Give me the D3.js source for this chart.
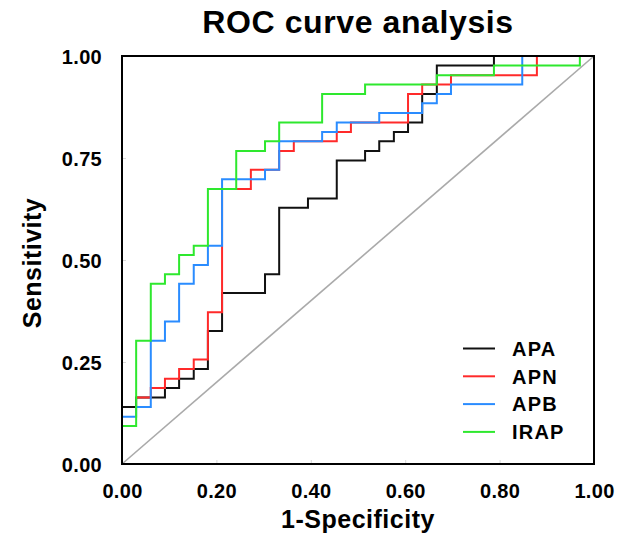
<!DOCTYPE html>
<html><head><meta charset="utf-8">
<script src="https://cdn.jsdelivr.net/npm/d3@7"></script>
<style>
html,body{margin:0;padding:0;background:#fff;}
text{font-family:"Liberation Sans",Arial,Helvetica,sans-serif;font-weight:bold;fill:#000;}
</style></head>
<body><svg id="c" width="624" height="536"></svg>
<script>
// ---- data (1-specificity, sensitivity) step corners ----
const seriesNames = ["APA","APN","APB","IRAP"];
const seriesColors = ["#111111","#ff2a2a","#2a8cff","#2ee82e"];
const apaFPR = [0,0,0.030,0.091,0.121,0.152,0.182,0.212,0.303,0.333,0.394,0.455,0.515,0.545,0.576,0.606,0.636,0.667,0.788,1];
const apaTPR = [0,0.140,0.163,0.186,0.209,0.233,0.326,0.419,0.465,0.628,0.651,0.744,0.767,0.791,0.814,0.837,0.907,0.977,1,1];
const apnFPR = [0.030,0.061,0.091,0.121,0.152,0.182,0.212,0.273,0.333,0.364,0.455,0.485,0.606,0.636,0.697,0.879,1];
const apnTPR = [0.163,0.186,0.209,0.233,0.256,0.372,0.674,0.721,0.767,0.791,0.814,0.837,0.907,0.930,0.953,1,1];
const apbFPR = [0,0,0.030,0.061,0.091,0.121,0.152,0.182,0.212,0.303,0.333,0.424,0.455,0.545,0.636,0.667,0.697,0.848,1];
const apbTPR = [0,0.116,0.140,0.302,0.349,0.442,0.488,0.535,0.698,0.721,0.791,0.814,0.837,0.860,0.884,0.907,0.930,1,1];
const irapFPR = [0,0,0.030,0.061,0.091,0.121,0.152,0.182,0.242,0.303,0.333,0.424,0.515,0.667,0.788,0.970,1];
const irapTPR = [0,0.093,0.302,0.442,0.465,0.512,0.535,0.674,0.767,0.791,0.837,0.907,0.930,0.953,0.977,1,1];
const xTicks = [0,0.2,0.4,0.6,0.8,1.0];
const yTicks = [0,0.25,0.5,0.75,1.0];

const fprs = [apaFPR,apnFPR,apbFPR,irapFPR];
const tprs = [apaTPR,apnTPR,apbTPR,irapTPR];

const svg = d3.select("#c");
const L=122,R=594,T=56,B=464;
const x = d3.scaleLinear().domain([0,1]).range([L,R]);
const y = d3.scaleLinear().domain([0,1]).range([B,T]);

// title
svg.append("text").attr("x",(L+R)/2).attr("y",33).attr("text-anchor","middle")
  .style("font-size","32px").style("letter-spacing","0.6px").text("ROC curve analysis");

// axes (inner light ticks)
const xa = svg.append("g").attr("transform",`translate(0,${B})`)
  .call(d3.axisBottom(x).tickValues(xTicks).tickFormat(d3.format(".2f")).tickSize(-4).tickPadding(14));
const ya = svg.append("g").attr("transform",`translate(${L},0)`)
  .call(d3.axisLeft(y).tickValues(yTicks).tickFormat(d3.format(".2f")).tickSize(-4).tickPadding(20));
[xa,ya].forEach(g=>{
  g.select(".domain").remove();
  g.selectAll(".tick line").attr("stroke","#d8d8d8").attr("stroke-width",1);
  g.selectAll(".tick text").style("font-size","20px").style("letter-spacing","0.3px")
    .style("font-family","'Liberation Sans',Arial,sans-serif").style("font-weight","bold").attr("fill","#000");
});
xa.selectAll(".tick text").attr("y",34).attr("dy",0);
ya.selectAll(".tick text").attr("dy","0.35em");

// diagonal
svg.append("line").attr("x1",x(0)).attr("y1",y(0)).attr("x2",x(1)).attr("y2",y(1))
  .attr("stroke","#aaaaaa").attr("stroke-width",1.6);

// curves
const line = d3.line().x(d=>x(d[0])).y(d=>y(d[1])).curve(d3.curveStepAfter);
seriesNames.forEach((n,i)=>{
  const pts = fprs[i].map((f,j)=>[f,tprs[i][j]]);
  svg.append("path").datum(pts).attr("d",line).attr("fill","none")
    .attr("stroke",seriesColors[i]).attr("stroke-width",2);
});

// frame
svg.append("rect").attr("x",L).attr("y",T).attr("width",R-L).attr("height",B-T)
  .attr("fill","none").attr("stroke","#000").attr("stroke-width",2);

// axis titles
svg.append("text").attr("x",(L+R)/2).attr("y",528).attr("text-anchor","middle")
  .style("font-size","25px").style("letter-spacing","0.5px").text("1-Specificity");
svg.append("text").attr("transform",`translate(41,263) rotate(-90)`).attr("text-anchor","middle")
  .style("font-size","25px").style("letter-spacing","0.5px").text("Sensitivity");

// legend
const lg = svg.append("g");
seriesNames.forEach((n,i)=>{
  const yy = 348.5 + i*27.8;
  lg.append("line").attr("x1",463).attr("x2",495).attr("y1",yy).attr("y2",yy)
    .attr("stroke",seriesColors[i]).attr("stroke-width",2);
  lg.append("text").attr("x",512).attr("y",yy).attr("dy","0.36em")
    .style("font-size","20px").style("letter-spacing","1.2px").text(n);
});
</script></body></html>
